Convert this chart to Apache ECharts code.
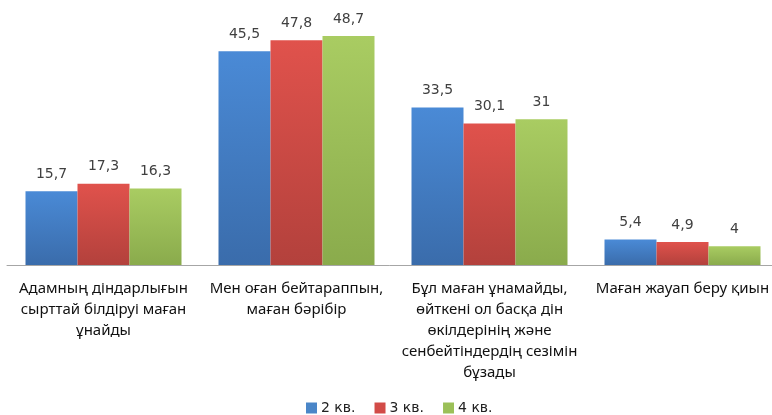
<!DOCTYPE html>
<html>
<head>
<meta charset="UTF-8"/>
<title></title>
<script src="https://cdn.jsdelivr.net/npm/echarts@6/dist/echarts.min.js"></script>
<style>
html,body{margin:0;padding:0;background:#fff;}
#main{width:772px;height:415px;}
</style>
</head>
<body>
<div id="main"></div>
<script type="text/javascript">
var categories = [
	'Адамның діндарлығын\nсырттай білдіруі маған\nұнайды',
	'Мен оған бейтараппын,\nмаған бәрібір',
	'Бұл маған ұнамайды,\nөйткені ол басқа дін\nөкілдерінің және\nсенбейтіндердің сезімін\nбұзады',
	'Маған жауап беру қиын'
];
var seriesNames = ['2 кв.', '3 кв.', '4 кв.'];
var q2 = [15.7, 45.5, 33.5, 5.4];
var q3 = [17.3, 47.8, 30.1, 4.9];
var q4 = [16.3, 48.7, 31, 4];

// excel-like gradients, light top / darker bottom
var colors = [
	['#4a8ad6', '#3a6cab'],
	['#e0524c', '#b3413c'],
	['#a9cc62', '#8aab4c']
];
var legendColors = ['#4a86c8', '#d24b47', '#9bc058'];

function grad(c){
	return new echarts.graphic.LinearGradient(0, 0, 0, 1, [
		{offset: 0, color: c[0]},
		{offset: 1, color: c[1]}
	]);
}

function makeSeries(name, data, i){
	return {
		name: name,
		type: 'bar',
		data: data,
		barWidth: 52,
		barGap: '0%',
		itemStyle: {color: grad(colors[i])},
		label: {
			show: true,
			position: 'top',
			distance: 10,
			color: '#404040',
			fontSize: 14,
			fontFamily: 'DejaVu Sans',
			formatter: function(p){ return String(p.value).replace('.', ','); }
		}
	};
}

var myChart = echarts.init(document.getElementById('main'));
var option = {
	animation: false,
	legend: {
		top: 396,
		left: 301,
		itemWidth: 11,
		itemHeight: 11,
		itemGap: 19,
		icon: 'rect',
		textStyle: {color: '#222', fontSize: 14, fontFamily: 'DejaVu Sans', padding: [0, 0, 0, -1]},
		data: seriesNames.map(function(n, i){
			return {name: n, itemStyle: {color: legendColors[i]}};
		})
	},
	grid: {left: 7, right: -7, top: 30, bottom: 150, outerBoundsMode: 'none', containLabel: false},
	xAxis: {
		type: 'category',
		data: categories,
		axisLine: {lineStyle: {color: '#a6a6a6'}},
		axisTick: {show: false},
		axisLabel: {
			interval: 0,
			margin: 13,
			color: '#111',
			fontSize: 15,
			lineHeight: 21,
			fontFamily: 'Noto Sans'
		}
	},
	yAxis: {
		type: 'value',
		min: 0,
		max: 50,
		show: false,
		splitLine: {show: false}
	},
	series: [
		makeSeries(seriesNames[0], q2, 0),
		makeSeries(seriesNames[1], q3, 1),
		makeSeries(seriesNames[2], q4, 2)
	]
};
myChart.setOption(option);
</script>
</body>
</html>
